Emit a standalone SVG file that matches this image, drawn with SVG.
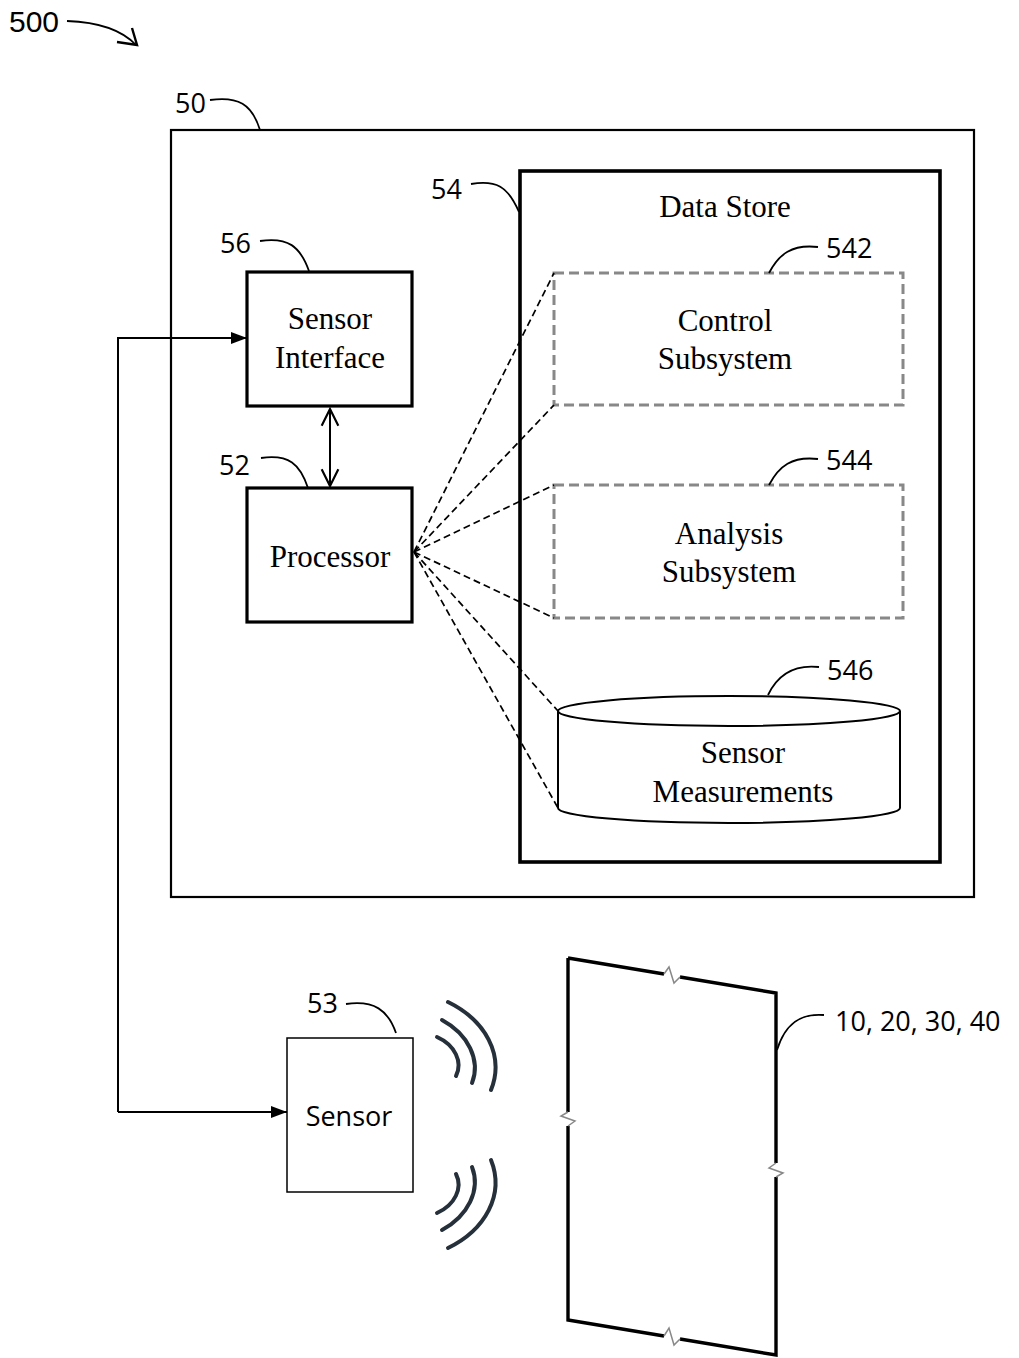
<svg xmlns="http://www.w3.org/2000/svg" width="1019" height="1358" viewBox="0 0 1019 1358">
  <style>
    .box { fill: none; stroke: #000; stroke-width: 3.2; }
    .sub { fill: none; stroke: #888; stroke-width: 3; stroke-dasharray: 10 5; }
    .lead { fill: none; stroke: #000; stroke-width: 1.8; }
    .dash { fill: none; stroke: #000; stroke-width: 1.7; stroke-dasharray: 7 4; }
    .wire { fill: none; stroke: #000; stroke-width: 2; }
    .wave { fill: none; stroke: #26303b; stroke-width: 4; stroke-linecap: round; }
    .serif { font-family: "Liberation Serif", "Times New Roman", serif; font-size: 31px; fill: #000; text-anchor: middle; }
    .ref { font-family: "Open Sans", "Liberation Sans", sans-serif; font-size: 27px; fill: #000; }
    .brk { fill: none; stroke: #888; stroke-width: 1.5; }
  </style>
  <defs>
    <marker id="solid" viewBox="0 0 16 12" refX="16" refY="6" markerWidth="16" markerHeight="12" markerUnits="userSpaceOnUse" orient="auto">
      <path d="M0,0 L16,6 L0,12 z" fill="#000"/>
    </marker>
    <marker id="open" viewBox="0 0 12 12" refX="11" refY="6" markerWidth="20" markerHeight="20" markerUnits="userSpaceOnUse" orient="auto-start-reverse">
      <path d="M1,1 L11,6 L1,11" fill="none" stroke="#000" stroke-width="1.3"/>
    </marker>
  </defs>

  <!-- figure number -->
  <g id="fig-label">
    <text x="9" y="32" font-family="Liberation Sans, Arial, sans-serif" font-size="30">500</text>
    <path d="M67,21 C95,22 120,28 136,45" class="lead" stroke-width="2.4"/>
    <path d="M117,42 L137,45 L132,28" fill="none" stroke="#000" stroke-width="2.4"/>
  </g>

  <!-- computing device 50 -->
  <g id="device">
    <rect x="171" y="130" width="803" height="767" fill="none" stroke="#000" stroke-width="2.2"/>
    <text class="ref" x="175" y="113">50</text>
    <path class="lead" d="M210,100 C238,96 252,104 260,130"/>
  </g>

  <!-- data store 54 -->
  <g id="data-store">
    <rect x="520" y="171" width="420" height="691" fill="none" stroke="#000" stroke-width="3.6"/>
    <text class="serif" x="725" y="217">Data Store</text>
    <text class="ref" x="431" y="199">54</text>
    <path class="lead" d="M471,184 C496,180 508,186 519,212"/>
  </g>

  <g id="control-subsystem">
    <rect class="sub" x="554" y="273" width="349" height="132"/>
    <text class="serif" x="725" y="331">Control</text>
    <text class="serif" x="725" y="369">Subsystem</text>
    <text class="ref" x="826" y="258">542</text>
    <path class="lead" d="M818,247 C792,244 779,254 769,273"/>
  </g>

  <g id="analysis-subsystem">
    <rect class="sub" x="554" y="485" width="349" height="133"/>
    <text class="serif" x="729" y="544">Analysis</text>
    <text class="serif" x="729" y="582">Subsystem</text>
    <text class="ref" x="826" y="470">544</text>
    <path class="lead" d="M818,459 C792,456 779,466 769,485"/>
  </g>

  <g id="sensor-measurements">
    <path d="M558,711 L558,808 A171,15 0 0 0 900,808 L900,711" fill="#fff" stroke="#000" stroke-width="2"/>
    <ellipse cx="729" cy="711" rx="171" ry="15" fill="#fff" stroke="#000" stroke-width="2"/>
    <text class="serif" x="743" y="763">Sensor</text>
    <text class="serif" x="743" y="802">Measurements</text>
    <text class="ref" x="827" y="680">546</text>
    <path class="lead" d="M819,667 C792,664 777,676 768,695"/>
  </g>

  <!-- sensor interface 56 -->
  <g id="sensor-interface">
    <rect class="box" x="247" y="272" width="165" height="134"/>
    <text class="serif" x="330" y="329">Sensor</text>
    <text class="serif" x="330" y="368">Interface</text>
    <text class="ref" x="220" y="253">56</text>
    <path class="lead" d="M260,241 C288,237 300,246 309,271"/>
  </g>

  <!-- processor 52 -->
  <g id="processor">
    <rect class="box" x="247" y="488" width="165" height="134"/>
    <text class="serif" x="330" y="567">Processor</text>
    <text class="ref" x="219" y="475">52</text>
    <path class="lead" d="M261,458 C289,454 300,464 308,488"/>
  </g>

  <!-- sensor 53 -->
  <g id="sensor">
    <rect x="287" y="1038" width="126" height="154" fill="none" stroke="#000" stroke-width="1.5"/>
    <text x="349" y="1126" font-family="Open Sans, Liberation Sans, sans-serif" font-size="27" text-anchor="middle">Sensor</text>
    <text class="ref" x="307" y="1013">53</text>
    <path class="lead" d="M346,1004 C374,1000 388,1010 396,1033"/>
  </g>

  <!-- emitted signal -->
  <g id="signal">
    <g id="wave-top">
      <path class="wave" d="M448,1002 C485,1020 505,1055 491,1090"/>
      <path class="wave" d="M442,1020 C468,1034 481,1060 472,1083"/>
      <path class="wave" d="M437,1037 C455,1045 463,1062 456,1076"/>
    </g>
    <use href="#wave-top" transform="translate(0,2250) scale(1,-1)"/>
  </g>

  <!-- structure 10, 20, 30, 40 -->
  <g id="structure">
    <path d="M568,958 L664,974 M680,977 L776,993 L776,1163 M776,1177 L776,1355 L680,1339 M664,1336 L568,1320 L568,1126 M568,1112 L568,958" fill="none" stroke="#000" stroke-width="3.4"/>
    <path class="brk" d="M664,974 L669,967 L674,983 L680,977"/>
    <path class="brk" d="M664,1336 L669,1328 L674,1345 L680,1339"/>
    <path class="brk" d="M568,1112 L561,1116 L575,1121 L568,1126"/>
    <path class="brk" d="M776,1163 L769,1168 L783,1173 L776,1177"/>
    <text class="ref" x="835" y="1031">10, 20, 30, 40</text>
    <path class="lead" d="M824,1015 C800,1013 785,1024 777,1050"/>
  </g>

  <!-- connectors -->
  <g id="connectors">
    <path class="wire" d="M118,1112 L118,338 L247,338" marker-end="url(#solid)"/>
    <path class="wire" d="M118,1112 L287,1112" marker-end="url(#solid)"/>
    <path class="wire" d="M330,409 L330,486" marker-start="url(#open)" marker-end="url(#open)"/>
    <path class="dash" d="M414,552 L554,273"/>
    <path class="dash" d="M414,552 L554,405"/>
    <path class="dash" d="M414,552 L554,485"/>
    <path class="dash" d="M414,552 L554,618"/>
    <path class="dash" d="M414,552 L558,711"/>
    <path class="dash" d="M414,552 L558,808"/>
  </g>
</svg>
